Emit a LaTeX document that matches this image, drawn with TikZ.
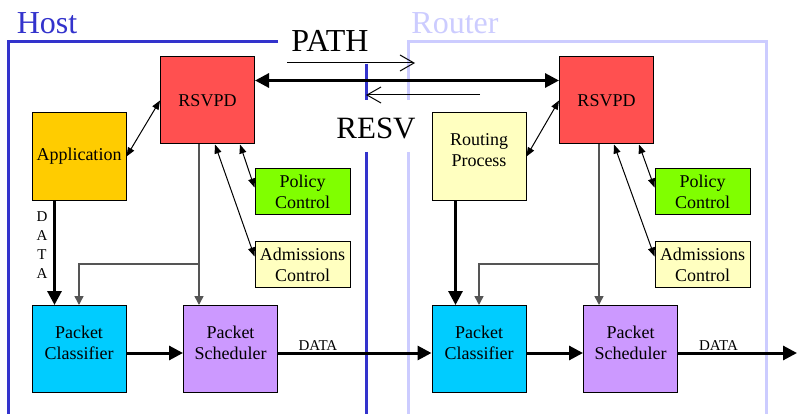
\documentclass[tikz,border=0pt]{standalone}
\usepackage{fontspec}
\setmainfont{Liberation Serif}
\usepackage{tikz}
\usetikzlibrary{arrows.meta}
\usetikzlibrary{positioning}
\usepackage{xcolor}
\definecolor{hostblue}{RGB}{51,51,204}
\definecolor{routerblue}{RGB}{204,204,255}
\definecolor{rsvpred}{RGB}{255,80,80}
\definecolor{appyellow}{RGB}{255,204,0}
\definecolor{paleyellow}{RGB}{255,255,192}
\definecolor{policygreen}{RGB}{128,255,0}
\definecolor{clscyan}{RGB}{0,204,255}
\definecolor{schviolet}{RGB}{204,153,255}
\definecolor{ctrlgray}{RGB}{85,85,85}
\tikzset{
  box/.style={draw,line width=1pt,minimum width=94pt,minimum height=87pt,inner sep=1pt,align=center,font=\fontsize{18}{21}\selectfont},
  twoline/.style={box,text depth=12pt},
  smallbox/.style={box,minimum width=95pt,minimum height=46pt},
  frame/.style={line width=3pt},
  thickarr/.style={line width=3pt,-{Triangle[length=14pt,width=14pt]}},
  thinarr/.style={line width=1pt,{Triangle[length=9pt,width=7pt]}-{Triangle[length=9pt,width=7pt]}},
  ctrl/.style={line width=1.5pt,ctrlgray,-{Triangle[length=9pt,width=9pt]}},
  sig/.style={line width=1pt,-{Straight Barb[length=14pt,width=16pt]}},
  biglabel/.style={inner sep=0pt,font=\fontsize{32}{32}\selectfont},
  datalabel/.style={inner sep=1pt,font=\fontsize{15}{19}\selectfont}
}

\begin{document}
\begin{tikzpicture}[x=1pt,y=-1pt]
\useasboundingbox (0,0) rectangle (797,414);
\draw[frame,hostblue] (278,42) -- (8,42) -- (8,414);
\draw[frame,hostblue] (366,64) -- (366,100) (366,152) -- (366,414);
\draw[frame,routerblue] (408,100) -- (408,42) -- (766,42) -- (766,414);
\draw[frame,routerblue] (408,152) -- (408,414);
\node[biglabel,hostblue] (host) at (47,23) {Host};
\node[biglabel,routerblue] (router) at (455,23) {Router};
\node[biglabel] (path) at (330,41) {PATH};
\node[biglabel,font=\fontsize{31}{31}\selectfont] (resv) at (376,128) {RESV};

\node[box,fill=rsvpred] (rsvpdH) at (207.5,100.5) {RSVPD};
\node[box,fill=rsvpred] (rsvpdR) at (606.5,100.5) {RSVPD};
\node[box,fill=appyellow] (app) at (79,156.5) {Application};
\node[twoline,fill=paleyellow] (rout) at (479,156.5) {Routing\\Process};
\node[smallbox,fill=policygreen] (polH) at (302.5,191.5) {Policy\\Control};
\node[smallbox,fill=paleyellow] (admH) at (302.5,264.5) {Admissions\\Control};
\node[smallbox,fill=policygreen] (polR) at (702.5,191.5) {Policy\\Control};
\node[smallbox,fill=paleyellow] (admR) at (702.5,264.5) {Admissions\\Control};
\node[twoline,fill=clscyan] (clsH) at (79,349) {Packet\\Classifier};
\node[twoline,fill=schviolet] (schH) at (230.5,349) {Packet\\Scheduler};
\node[twoline,fill=clscyan] (clsR) at (479,349) {Packet\\Classifier};
\node[twoline,fill=schviolet] (schR) at (630.5,349) {Packet\\Scheduler};

\coordinate (pathA) at (287,63);
\coordinate (pathB) at (415,63);
\coordinate (resvA) at (480,95);
\coordinate (resvB) at (366,95);
\coordinate (brH) at (199,264);
\coordinate (brR) at (599,264);
\coordinate (out) at (797,353);

\draw[sig] (pathA) -- (pathB);
\draw[sig] (resvA) -- (resvB);
\draw[line width=3pt,{Triangle[length=14pt,width=14pt]}-{Triangle[length=14pt,width=14pt]}]
  ([yshift=20pt]rsvpdH.east) -- ([yshift=20pt]rsvpdR.west);

\draw[thinarr] (app.east) -- (rsvpdH.west);
\draw[thinarr] ([xshift=-15pt]rsvpdH.south east) -- ([yshift=4pt]polH.west);
\draw[thinarr] ([xshift=-40pt]rsvpdH.south east) -- ([yshift=8pt]admH.west);
\draw[thinarr] (rout.east) -- (rsvpdR.west);
\draw[thinarr] ([xshift=-15pt]rsvpdR.south east) -- ([yshift=4pt]polR.west);
\draw[thinarr] ([xshift=-40pt]rsvpdR.south east) -- ([yshift=8pt]admR.west);

\draw[ctrl] (rsvpdH.south -| brH) -- (schH.north -| brH);
\draw[ctrl] (brH) -| (clsH.north);
\draw[ctrl] (rsvpdR.south -| brR) -- (schR.north -| brR);
\draw[ctrl] (brR) -| (clsR.north);

\draw[thickarr] ([xshift=23pt]app.south west) -- ([xshift=23pt]clsH.north west);
\node[datalabel,align=center] (dataV) at (42,245) {D\\A\\T\\A};
\draw[thickarr] ([xshift=24pt]rout.south west) -- ([xshift=24pt]clsR.north west);

\draw[thickarr] ([yshift=-4pt]clsH.east) -- ([yshift=-4pt]schH.west);
\draw[thickarr] ([yshift=-4pt]schH.east) -- ([yshift=-4pt]clsR.west)
  node[datalabel,above,pos=0.26] (dataH) {DATA};
\draw[thickarr] ([yshift=-4pt]clsR.east) -- ([yshift=-4pt]schR.west);
\draw[thickarr] ([yshift=-4pt]schR.east) -- (out)
  node[datalabel,above,pos=0.34] (dataR) {DATA};
\end{tikzpicture}
\end{document}
